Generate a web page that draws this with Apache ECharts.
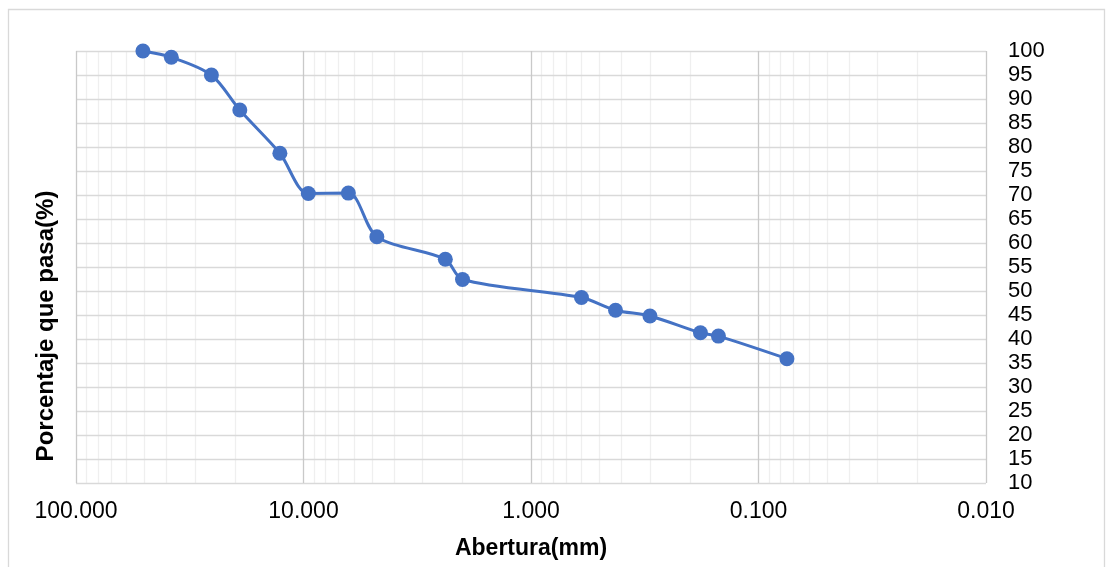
<!DOCTYPE html>
<html>
<head>
<meta charset="utf-8">
<script src="https://cdn.jsdelivr.net/npm/echarts@6/dist/echarts.min.js"></script>
<style>
  html, body { margin: 0; padding: 0; background: #ffffff; }
  #chart { width: 1113px; height: 567px; }
</style>
</head>
<body>
<div id="chart"></div>
<script>
// Sieve openings (mm) and cumulative percentage passing
const aberturas = [50.8, 38.1, 25.4, 19.05, 12.7, 9.525, 6.35, 4.76, 2.38, 2.0, 0.6, 0.425, 0.3, 0.18, 0.15, 0.075];
const porcentajes = [100, 98.7, 95.0, 87.7, 78.7, 70.3, 70.4, 61.3, 56.6, 52.4, 48.65, 46.0, 44.8, 41.3, 40.6, 35.9];

// Axis ranges and labels
const xMin = 0.01, xMax = 100;
const yMin = 10, yMax = 100, yStep = 5;
const xTitle = 'Abertura(mm)';
const yTitle = 'Porcentaje que pasa(%)';

const FONT = '"Liberation Sans", Arial, sans-serif';

// Intermediate log gridlines (2..9 within each decade)
const minorLines = [];
for (let e = -2; e < 2; e++) {
  for (let m = 2; m <= 9; m++) {
    minorLines.push({ xAxis: m * Math.pow(10, e) });
  }
}

const points = aberturas.map((a, i) => [a, porcentajes[i]]);

const chart = echarts.init(document.getElementById('chart'), null, { renderer: 'canvas' });
chart.setOption({
  animation: false,
  backgroundColor: '#ffffff',
  grid: { left: 76, top: 51, right: 127, bottom: 84, containLabel: false },
  graphic: [
    {
      type: 'rect',
      shape: { x: 8.5, y: 9.5, width: 1096, height: 600 },
      style: { fill: 'none', stroke: '#d9d9d9', lineWidth: 1.3 },
      silent: true, z: -10
    },
    {
      type: 'text',
      x: 46, y: 326,
      rotation: Math.PI / 2,
      style: {
        text: yTitle,
        font: 'bold 24px ' + FONT,
        fill: '#000000',
        align: 'center',
        verticalAlign: 'middle'
      },
      silent: true
    }
  ],
  xAxis: {
    type: 'log',
    logBase: 10,
    min: xMin,
    max: xMax,
    inverse: true,
    name: xTitle,
    nameLocation: 'middle',
    nameGap: 54,
    nameTextStyle: { fontFamily: FONT, fontSize: 23, fontWeight: 'bold', color: '#000000' },
    axisLine: { show: false },
    axisTick: { show: false },
    axisLabel: {
      fontFamily: FONT, fontSize: 23, color: '#000000', margin: 17,
      formatter: v => Number(v).toFixed(3)
    },
    splitLine: { show: true, lineStyle: { color: '#c9c9c9', width: 1.3 } }
  },
  yAxis: {
    type: 'value',
    position: 'right',
    min: yMin,
    max: yMax,
    interval: yStep,
    axisLine: { show: false },
    axisTick: { show: false },
    axisLabel: { fontFamily: FONT, fontSize: 22, color: '#000000', margin: 22 },
    splitLine: { show: true, lineStyle: { color: '#d9d9d9', width: 1.3 } }
  },
  series: [
    {
      // minor log gridlines, kept beneath the main gridlines
      type: 'line',
      data: [],
      z: -1,
      silent: true,
      markLine: {
        z: -1,
        silent: true,
        symbol: 'none',
        label: { show: false },
        lineStyle: { color: '#efefef', width: 1.3, type: 'solid' },
        emphasis: { disabled: true },
        data: minorLines
      }
    },
    {
      type: 'line',
      data: points,
      z: 3,
      smooth: 0.3,
      symbol: 'circle',
      symbolSize: 15,
      lineStyle: { color: '#4472C4', width: 3 },
      itemStyle: { color: '#4472C4' }
    }
  ]
});
</script>
</body>
</html>
